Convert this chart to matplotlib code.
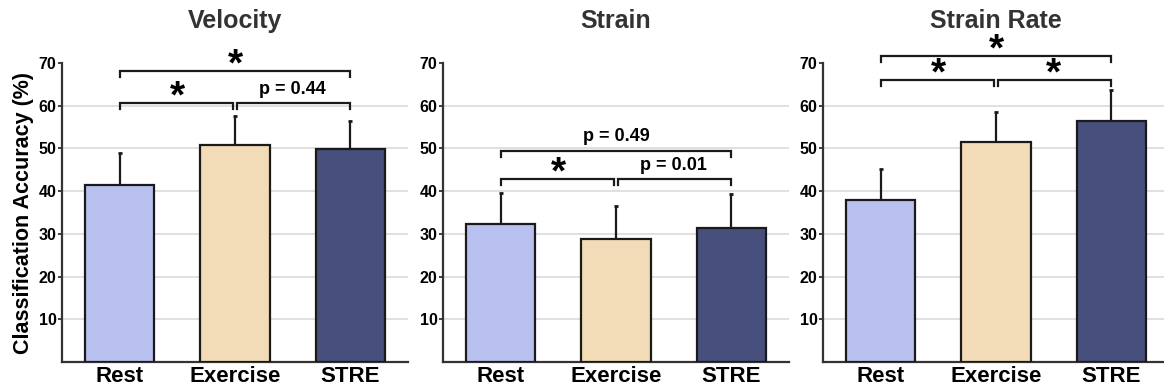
import matplotlib
matplotlib.use('Agg')
import matplotlib.pyplot as plt

plt.rcParams['font.family'] = ['Liberation Sans', 'DejaVu Sans']
plt.rcParams['font.weight'] = 'bold'

groups = ['Rest', 'Exercise', 'STRE']
titles = ['Velocity', 'Strain', 'Strain Rate']
colors = ['#b8c0f0', '#f2dcb8', '#474f7c']

# mean accuracy and upper error (sd) per panel
means = [
    [41.4, 50.7, 49.8],
    [32.3, 28.8, 31.4],
    [37.9, 51.4, 56.5],
]
errors = [
    [7.5, 7.0, 6.7],
    [7.3, 7.8, 8.0],
    [7.2, 7.2, 7.2],
]

# significance brackets: (left, right, height, label)
brackets = [
    [(0, 1, 60.6, '*'), (1, 2, 60.6, 'p = 0.44'), (0, 2, 68.2, '*')],
    [(0, 1, 42.8, '*'), (1, 2, 42.8, 'p = 0.01'), (0, 2, 49.5, 'p = 0.49')],
    [(0, 1, 66.1, '*'), (1, 2, 66.1, '*'), (0, 2, 71.7, '*')],
]

fig = plt.figure(figsize=(11.64, 3.92), dpi=100)
W, H = 1164.0, 392.0
lefts = [62, 443, 823]
ax_w = 346
bottom = (H - 362) / H
height = (362 - 63) / H

for i in range(3):
    ax = fig.add_axes([lefts[i] / W, bottom, ax_w / W, height])
    x = range(len(groups))
    ax.bar(x, means[i], width=0.6, color=colors, edgecolor='#1a1a1a',
           linewidth=1.6, zorder=3)
    ax.errorbar(x, means[i], yerr=[[0, 0, 0], errors[i]], fmt='none',
                ecolor='#1a1a1a', elinewidth=1.6, capsize=1.5, capthick=2,
                zorder=2)
    ax.set_xlim(-0.5, 2.5)
    ax.set_ylim(0, 70)
    ax.set_yticks(range(10, 71, 10))
    for g in range(10, 61, 10):
        ax.axhline(g, color='#dddddd', linewidth=1.3, zorder=0)
    ax.set_xticks(list(x))
    ax.set_xticklabels(groups, fontsize=16, fontweight='bold')
    ax.tick_params(axis='x', length=0, pad=3)
    ax.tick_params(axis='y', length=3, width=1.3, pad=1, labelsize=11.5,
                   color='#333333')
    for lab in ax.get_yticklabels():
        lab.set_fontweight('bold')
    for s in ['top', 'right']:
        ax.spines[s].set_visible(False)
    for s in ['left', 'bottom']:
        ax.spines[s].set_linewidth(1.6)
        ax.spines[s].set_color('#333333')
    ax.set_title(titles[i], fontsize=18, fontweight='bold', color='#333333',
                 pad=25)
    if i == 0:
        ax.set_ylabel('Classification Accuracy (%)', fontsize=15.5,
                      fontweight='bold', labelpad=3)

    for a, b, h, lab in brackets[i]:
        xa = a + (0.02 if a == 1 else 0)
        xb = b - (0.02 if b == 1 else 0)
        ax.plot([xa, xa, xb, xb], [h - 1.4, h, h, h - 1.4], color='#1a1a1a',
                linewidth=1.6, clip_on=False, solid_joinstyle='miter')
        mid = (a + b) / 2
        if lab == '*':
            ax.text(mid, h - 1.1, lab, ha='center', va='baseline', fontsize=28,
                    fontweight='bold', clip_on=False)
        else:
            ax.text(mid, h + 2.2, lab, ha='center', va='baseline', fontsize=13,
                    fontweight='bold', clip_on=False)

fig.savefig('out.png', dpi=100)
